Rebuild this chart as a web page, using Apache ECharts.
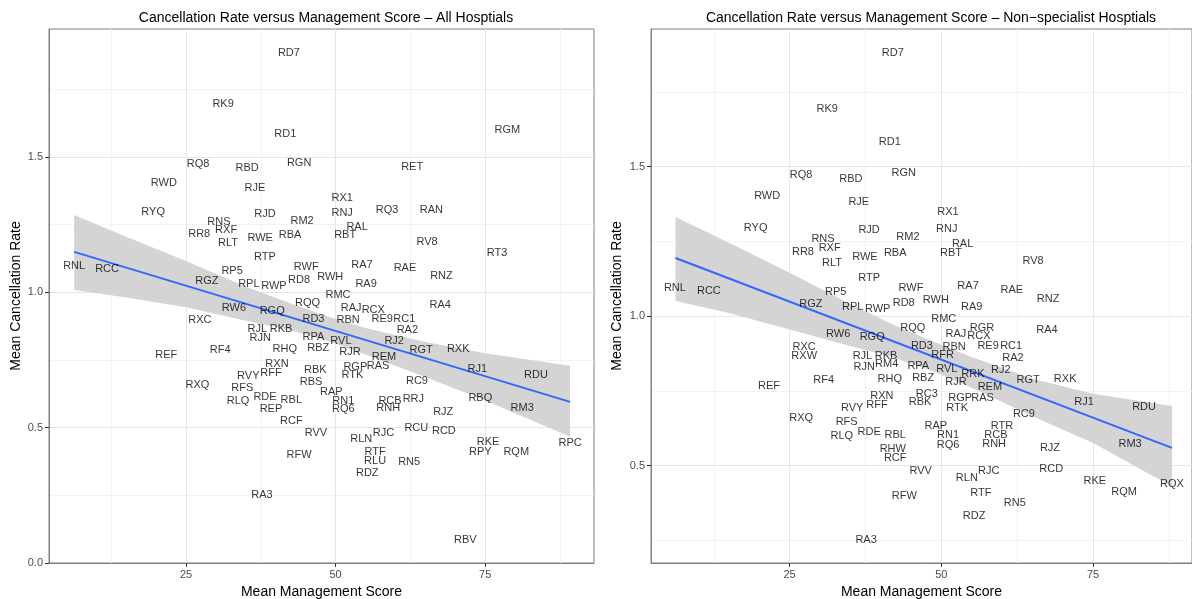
<!DOCTYPE html>
<html>
<head>
<meta charset="utf-8">
<script src="https://cdn.jsdelivr.net/npm/echarts@6.0.0/dist/echarts.min.js"></script>
<style>
  html, body { margin: 0; padding: 0; background: #fff; }
  #chart { width: 1192px; height: 599px; }
</style>
</head>
<body>
<div id="chart"></div>
<script>
// ---- left panel: all hospitals ----
const allCodes = ['RD7','RK9','RD1','RGM','RQ8','RBD','RGN','RET','RWD','RJE','RX1','RNJ','RQ3','RAN','RYQ','RJD','RNS','RM2','RAL','RXF',
  'RR8','RBA','RBT','RWE','RLT','RV8','RT3','RTP','RNL','RCC','RA7','RWF','RAE','RP5','RNZ','RWH','RD8','RGZ','RA9','RPL',
  'RWP','RMC','RQQ','RA4','RW6','RAJ','RCX','RGQ','RD3','RBN','RE9','RC1','RXC','RJL','RKB','RA2','RPA','RJN','RVL','RJ2',
  'RBZ','RHQ','RF4','RGT','RXK','RJR','REF','REM','RXN','RGP','RAS','RJ1','RBK','RFF','RVY','RTK','RDU','RC9','RBS','RXQ',
  'RFS','RAP','RDE','RBL','RLQ','RN1','RCB','RRJ','RBQ','REP','RQ6','RNH','RM3','RJZ','RCF','RCU','RCD','RVV','RJC','RLN',
  'RKE','RPC','RPY','RQM','RTF','RFW','RLU','RN5','RDZ','RA3','RBV'];
const allScore = [42.2,31.2,41.6,78.7,27.0,35.2,43.9,62.8,21.3,36.5,51.1,51.1,58.6,66.0,19.5,38.2,30.5,44.4,53.6,31.7,
  27.2,42.4,51.6,37.4,32.0,65.3,77.0,38.2,6.3,11.8,54.4,45.1,61.6,32.7,67.7,49.1,43.9,28.5,55.1,35.5,
  39.7,50.4,45.3,67.5,33.0,52.6,56.3,39.4,46.3,52.1,57.8,61.5,27.3,36.9,40.9,62.0,46.3,37.4,50.9,59.8,
  47.1,41.5,30.7,64.3,70.5,52.4,21.7,58.1,40.2,53.3,57.1,73.7,46.6,39.2,35.4,52.8,83.5,63.6,45.9,26.9,
  34.4,49.3,38.2,42.6,33.7,51.3,59.1,63.0,74.2,39.2,51.3,58.8,81.2,68.0,42.6,63.5,68.1,46.7,58.0,54.3,
  75.5,89.2,74.2,80.2,56.6,43.9,56.6,62.3,55.3,37.7,71.7];
const allRate = [1.883,1.695,1.584,1.599,1.474,1.458,1.477,1.463,1.403,1.385,1.348,1.293,1.304,1.304,1.296,1.289,1.259,1.263,1.241,1.230,
  1.215,1.211,1.212,1.200,1.181,1.186,1.144,1.130,1.097,1.086,1.101,1.093,1.090,1.079,1.060,1.056,1.046,1.042,1.031,1.031,
  1.023,0.990,0.960,0.953,0.942,0.942,0.934,0.930,0.902,0.898,0.902,0.902,0.897,0.864,0.864,0.861,0.835,0.831,0.821,0.821,
  0.794,0.791,0.787,0.787,0.790,0.779,0.768,0.761,0.736,0.724,0.727,0.717,0.713,0.702,0.690,0.694,0.694,0.672,0.669,0.657,
  0.646,0.632,0.614,0.603,0.599,0.599,0.599,0.606,0.610,0.569,0.569,0.573,0.573,0.558,0.525,0.499,0.488,0.481,0.481,0.459,
  0.448,0.444,0.411,0.411,0.411,0.400,0.378,0.374,0.331,0.252,0.086];
const allFitX = [6.3, 89.2];
const allFitY = [1.149, 0.595];
const allBandX = [6.3, 15, 25, 35, 42, 48, 55, 65, 75, 89.2];
const allBandHi = [1.285, 1.205, 1.115, 1.020, 0.963, 0.915, 0.868, 0.816, 0.775, 0.728];
const allBandLo = [1.008, 0.980, 0.944, 0.895, 0.862, 0.825, 0.770, 0.687, 0.600, 0.466];

// ---- right panel: non-specialist hospitals ----
const nsCodes = ['RD7','RK9','RD1','RQ8','RBD','RGN','RWD','RJE','RX1','RYQ','RJD','RNJ','RM2','RNS','RAL','RXF','RR8','RBA','RBT','RWE',
  'RV8','RLT','RTP','RA7','RNL','RWF','RCC','RAE','RP5','RNZ','RWH','RD8','RGZ','RPL','RA9','RWP','RMC','RQQ','RGR','RA4',
  'RW6','RAJ','RCX','RGQ','RD3','RBN','RE9','RC1','RXC','RFR','RXW','RJL','RKB','RA2','RM4','RPA','RJN','RVL','RJ2','RRK',
  'RBZ','RHQ','RF4','RGT','RXK','RJR','REF','REM','RC3','RXN','RGP','RAS','RBK','RJ1','RFF','RDU','RVY','RTK','RC9','RXQ',
  'RFS','RAP','RTR','RDE','RBL','RN1','RCB','RLQ','RQ6','RNH','RM3','RJZ','RHW','RCF','RCD','RVV','RJC','RLN','RKE','RQX',
  'RQM','RTF','RFW','RN5','RDZ','RA3'];
const nsScore = [42.0,31.2,41.5,26.9,35.1,43.8,21.3,36.4,51.1,19.4,38.1,50.9,44.5,30.5,53.5,31.6,27.2,42.4,51.6,37.4,
  65.1,32.0,38.1,54.4,6.1,45.0,11.7,61.6,32.6,67.6,49.1,43.8,28.5,35.4,55.0,39.5,50.4,45.3,56.7,67.4,
  33.0,52.4,56.2,38.6,46.8,52.1,57.7,61.5,27.4,50.2,27.4,37.0,40.9,61.8,41.0,46.2,37.3,50.9,59.8,55.2,
  47.0,41.5,30.6,64.3,70.4,52.4,21.6,58.0,47.6,40.2,53.1,56.8,46.5,73.5,39.4,83.4,35.3,52.6,63.6,26.9,
  34.4,49.1,60.0,38.1,42.4,51.1,59.0,33.6,51.1,58.7,81.1,67.9,42.0,42.4,68.1,46.6,57.8,54.2,75.3,88.0,
  80.1,56.5,43.9,62.1,55.4,37.6];
const nsRate = [1.880,1.692,1.582,1.472,1.458,1.478,1.401,1.381,1.348,1.294,1.288,1.291,1.264,1.258,1.241,1.227,1.214,1.211,1.211,1.197,
  1.184,1.177,1.127,1.100,1.094,1.094,1.084,1.087,1.080,1.057,1.054,1.044,1.040,1.030,1.030,1.023,0.990,0.960,0.960,0.953,
  0.940,0.940,0.933,0.930,0.900,0.896,0.900,0.900,0.896,0.870,0.866,0.866,0.866,0.860,0.839,0.833,0.829,0.823,0.819,0.806,
  0.793,0.789,0.786,0.786,0.789,0.779,0.766,0.763,0.739,0.732,0.726,0.726,0.712,0.712,0.702,0.696,0.692,0.692,0.672,0.659,
  0.645,0.632,0.632,0.612,0.602,0.602,0.602,0.599,0.569,0.572,0.572,0.559,0.555,0.525,0.488,0.482,0.482,0.458,0.448,0.438,
  0.411,0.408,0.398,0.375,0.331,0.251];
const nsFitX = [6.2, 88.0];
const nsFitY = [1.194, 0.559];
const nsBandX = [6.2, 15, 25, 35, 42, 48, 55, 65, 75, 88.0];
const nsBandHi = [1.331, 1.245, 1.145, 1.040, 0.972, 0.920, 0.863, 0.790, 0.740, 0.699];
const nsBandLo = [1.050, 1.010, 0.955, 0.900, 0.862, 0.820, 0.760, 0.665, 0.575, 0.430];

// axis ticks
const xMajor = [25, 50, 75];
const xMinor = [12.5, 37.5, 62.5, 87.5];
const yMajorAll = [0, 0.5, 1.0, 1.5];
const yMinorAll = [0.25, 0.75, 1.25, 1.75];
const yMajorNs = [0.5, 1.0, 1.5];
const yMinorNs = [0.25, 0.75, 1.25, 1.75];

const titles = ['Cancellation Rate versus Management Score \u2013 All Hosptials',
  'Cancellation Rate versus Management Score \u2013 Non\u2212specialist Hosptials'];

const FONT = '"Liberation Sans", Arial, Helvetica, sans-serif';
const xRanges = [[2.09, 93.2], [2.16, 91.3]];
const yRanges = [[0, 1.972], [0.174, 1.96]];

const chart = echarts.init(document.getElementById('chart'));

const grids = [
  { left: 49, top: 29, width: 545, height: 534 },
  { left: 651, top: 29, width: 541, height: 534 }
];

function mainX(i) {
  return {
    type: 'value', gridIndex: i, min: xRanges[i][0], max: xRanges[i][1],
    name: 'Mean Management Score', nameLocation: 'middle', nameGap: 17,
    nameTextStyle: { fontFamily: FONT, fontSize: 14, color: '#000' },
    axisLine: { show: true, onZero: false, lineStyle: { color: '#7f7f7f', width: 1 } },
    axisTick: { show: true, length: 4, customValues: xMajor, lineStyle: { color: '#333' } },
    axisLabel: { customValues: xMajor, margin: 6, fontFamily: FONT, fontSize: 11, color: '#4d4d4d' },
    splitLine: { show: true, lineStyle: { color: '#e6e6e6', width: 1 } }
  };
}
function minorX(i) {
  return {
    type: 'value', gridIndex: i, min: xRanges[i][0], max: xRanges[i][1], position: 'bottom',
    axisLine: { show: false }, axisLabel: { show: false },
    axisTick: { show: false, customValues: xMinor },
    splitLine: { show: true, lineStyle: { color: '#f3f3f3', width: 1 } }
  };
}
function mainY(i, ticks, gap) {
  return {
    type: 'value', gridIndex: i, min: yRanges[i][0], max: yRanges[i][1],
    name: 'Mean Cancellation Rate', nameLocation: 'middle', nameGap: gap,
    nameTextStyle: { fontFamily: FONT, fontSize: 14, color: '#000' },
    axisLine: { show: true, onZero: false, lineStyle: { color: '#7f7f7f', width: 1 } },
    axisTick: { show: true, length: 4, customValues: ticks, lineStyle: { color: '#333' } },
    axisLabel: { customValues: ticks, margin: 6, fontFamily: FONT, fontSize: 11, color: '#4d4d4d',
      formatter: v => Number(v).toFixed(1) },
    splitLine: { show: true, lineStyle: { color: '#e6e6e6', width: 1 } }
  };
}
function minorY(i, ticks) {
  return {
    type: 'value', gridIndex: i, min: yRanges[i][0], max: yRanges[i][1], position: 'left',
    axisLine: { show: false }, axisLabel: { show: false },
    axisTick: { show: false, customValues: ticks },
    splitLine: { show: true, lineStyle: { color: '#f3f3f3', width: 1 } }
  };
}

function bandSeries(axisIdx, bx, hi, lo) {
  return {
    type: 'custom', xAxisIndex: axisIdx, yAxisIndex: axisIdx, silent: true, z: 2,
    data: [[bx[0], hi[0]]],
    renderItem: function (params, api) {
      const up = [], dn = [];
      for (let k = 0; k < bx.length; k++) {
        up.push(api.coord([bx[k], hi[k]]));
        dn.push(api.coord([bx[k], lo[k]]));
      }
      return { type: 'polygon', shape: { points: up.concat(dn.reverse()) }, style: { fill: '#d4d4d4' } };
    }
  };
}
function fitSeries(axisIdx, fx, fy) {
  return {
    type: 'line', xAxisIndex: axisIdx, yAxisIndex: axisIdx, silent: true, z: 3,
    symbol: 'none', data: fx.map((v, k) => [v, fy[k]]),
    lineStyle: { color: '#3366FF', width: 2 }
  };
}
function textSeries(axisIdx, codes, xs, ys) {
  return {
    type: 'scatter', xAxisIndex: axisIdx, yAxisIndex: axisIdx, silent: true, z: 4,
    symbolSize: 1, itemStyle: { color: 'rgba(0,0,0,0)' },
    data: codes.map((c, k) => [xs[k], ys[k], c]),
    label: { show: true, position: 'inside', formatter: p => p.data[2],
      fontFamily: FONT, fontSize: 11, color: '#000' },
    labelLayout: { hideOverlap: false }
  };
}

chart.setOption({
  animation: false,
  title: [
    { text: titles[0], left: 321, top: 6, textAlign: 'center',
      textStyle: { fontFamily: FONT, fontSize: 14, fontWeight: 'normal', color: '#000' } },
    { text: titles[1], left: 926, top: 6, textAlign: 'center',
      textStyle: { fontFamily: FONT, fontSize: 14, fontWeight: 'normal', color: '#000' } }
  ],
  grid: grids.map(g => Object.assign({ show: true, borderColor: '#7f7f7f', borderWidth: 1,
    backgroundColor: '#fff', outerBoundsMode: 'none', containLabel: false }, g)),
  // axes 0,1 are the main ones, 2,3 only carry minor grid lines
  xAxis: [mainX(0), mainX(1), minorX(0), minorX(1)],
  yAxis: [mainY(0, yMajorAll, 26), mainY(1, yMajorNs, 27), minorY(0, yMinorAll), minorY(1, yMinorNs)],
  series: [
    bandSeries(0, allBandX, allBandHi, allBandLo),
    fitSeries(0, allFitX, allFitY),
    textSeries(0, allCodes, allScore, allRate),
    bandSeries(1, nsBandX, nsBandHi, nsBandLo),
    fitSeries(1, nsFitX, nsFitY),
    textSeries(1, nsCodes, nsScore, nsRate)
  ]
});
</script>
</body>
</html>
